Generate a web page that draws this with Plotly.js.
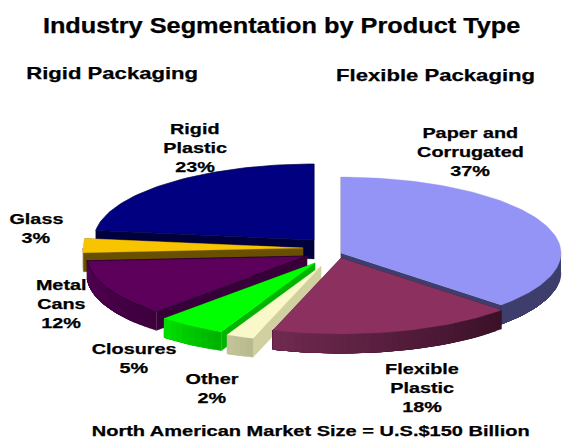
<!DOCTYPE html>
<html>
<head>
<meta charset="utf-8">
<script src="https://cdn.plot.ly/plotly-3.0.0.min.js"></script>
<style>
html,body{margin:0;padding:0;background:#fff}
#chart{width:562px;height:438px}
.annotation-text{stroke:#000;stroke-width:0.25px}
</style>
</head>
<body>
<div id="chart"></div>
<script>
// Market shares, clockwise from twelve o'clock
const segments = ["Paper and Corrugated","Flexible Plastic","Other","Closures","Metal Cans","Glass","Rigid Plastic"];
const shares = [37, 18, 2, 5, 12, 3, 23];

// Slice colours: top face, cut wall, rim at its left end, rim at its right end
const topColors = ["#9494f6","#8c305f","#f8f8c8","#00ff00","#5c005c","#f8c400","#000080"];
const wallColors = ["#3e3e6c","#3a1028","#d0d0a0","#00b400","#380038","#685000","#00003c"];
const rimLeft = ["#3e3e6c","#702a50","#c4c49a","#00e000","#520052","#806000","#00003c"];
const rimRight = ["#3e3e6c","#3a1028","#b8b890","#00b000","#3c003c","#806000","#00003c"];
const edgeColors = [null,null,null,null,"#20002a",null,"#000040"];

// Pie projection: each slice has its own pulled-out apex in plot units
const apexX = [341, 341, 321, 315, 307, 303, 314];
const apexY = [253, 258, 266, 263, 256, 248, 240];
const radiusX = 220, radiusY = 76, depth = 19;

// Back-to-front painting order
const paintOrder = [6, 0, 5, 4, 3, 2, 1];

const headings = [
  {text:"Industry Segmentation by Product Type", x:281, y:25, size:22, stretch:1.15},
  {text:"Rigid Packaging", x:112, y:73, size:17, stretch:1.3},
  {text:"Flexible Packaging", x:435, y:75, size:17, stretch:1.3},
  {text:"North American Market Size = U.S.$150 Billion", x:310, y:430.5, size:14.5, stretch:1.38}
];
const sliceLabels = [
  {lines:["Paper and","Corrugated","37%"], x:470, y:132},
  {lines:["Flexible","Plastic","18%"], x:422, y:368},
  {lines:["Other","2%"], x:212, y:378},
  {lines:["Closures","5%"], x:134, y:348},
  {lines:["Metal","Cans","12%"], x:61, y:284},
  {lines:["Glass","3%"], x:36, y:218},
  {lines:["Rigid","Plastic","23%"], x:195, y:128}
];
const labelStep = 19, labelSize = 15, labelStretch = 1.32;

const rad = d => d * Math.PI / 180;
const rimX = (i, a) => apexX[i] + radiusX * Math.sin(rad(a));
const rimY = (i, a) => apexY[i] - radiusY * Math.cos(rad(a));

function arcPoints(i, a0, a1, dy) {
  const xs = [], ys = [], n = Math.max(2, Math.ceil((a1 - a0) / 1.5));
  for (let k = 0; k <= n; k++) {
    const a = a0 + (a1 - a0) * k / n;
    xs.push(rimX(i, a)); ys.push(rimY(i, a) + dy);
  }
  return [xs, ys];
}
function poly(xs, ys, color, edge) {
  return {
    type:"scatter", mode:"lines", x:xs, y:ys, fill:"toself", fillcolor:color,
    line:{color:edge || color, width:edge ? 0.7 : 0.3},
    hoverinfo:"skip", showlegend:false
  };
}
function mix(c1, c2, t) {
  const p = c => [1,3,5].map(s => parseInt(c.substr(s,2),16));
  const a = p(c1), b = p(c2);
  return "rgb(" + a.map((v,j) => Math.round(v + (b[j]-v)*t)).join(",") + ")";
}

const total = shares.reduce((s,v) => s+v, 0);
const starts = [];
shares.reduce((acc,v,i) => { starts[i] = acc; return acc + v; }, 0);

const traces = [];
paintOrder.forEach(i => {
  const a0 = starts[i] / total * 360, a1 = (starts[i] + shares[i]) / total * 360;
  // cut walls
  [a0, a1].forEach(a => {
    const ex = rimX(i,a), ey = rimY(i,a);
    traces.push(poly([apexX[i],ex,ex,apexX[i],apexX[i]],
                     [apexY[i],ey,ey+depth,apexY[i]+depth,apexY[i]], wallColors[i]));
  });
  // rim, only where it faces the viewer; overlapping strips give a smooth left-right shade
  const r0 = Math.max(a0, 90), r1 = Math.min(a1, 270);
  if (r1 > r0) {
    const strips = Math.max(1, Math.ceil((r1 - r0) / 2));
    for (let s = 0; s < strips; s++) {
      const b0 = r0 + (r1 - r0) * s / strips;
      const [tx, ty] = arcPoints(i, b0, r1, 0);
      const [bx, by] = arcPoints(i, b0, r1, depth);
      traces.push(poly(tx.concat(bx.slice().reverse()), ty.concat(by.slice().reverse()),
                       mix(rimRight[i], rimLeft[i], (s + 0.5) / strips)));
    }
  }
  // top face
  const [fx, fy] = arcPoints(i, a0, a1, 0);
  traces.push(poly([apexX[i]].concat(fx, [apexX[i]]), [apexY[i]].concat(fy, [apexY[i]]), topColors[i], edgeColors[i]));
});

const font = size => ({family:"Liberation Sans, Arial, sans-serif", size:size, color:"#000", weight:"bold"});
const annotations = [], stretches = [];
headings.forEach(t => {
  annotations.push({x:t.x, y:t.y, xref:"x", yref:"y", text:t.text, showarrow:false, font:font(t.size)});
  stretches.push(t.stretch);
});
sliceLabels.forEach(l => l.lines.forEach((line, k) => {
  annotations.push({x:l.x, y:l.y + k * labelStep, xref:"x", yref:"y", text:line, showarrow:false, font:font(labelSize)});
  stretches.push(labelStretch);
}));

Plotly.newPlot("chart", traces, {
  width:562, height:438,
  margin:{l:0,r:0,t:0,b:0},
  paper_bgcolor:"#fff", plot_bgcolor:"#fff",
  xaxis:{range:[0,562], visible:false, fixedrange:true},
  yaxis:{range:[438,0], visible:false, fixedrange:true},
  annotations:annotations
}, {displayModeBar:false, staticPlot:true}).then(gd => {
  // The lettering is set wide: widen each label's glyphs about its centre
  gd.querySelectorAll(".annotation-text").forEach((el, n) => {
    el.setAttribute("lengthAdjust", "spacingAndGlyphs");
    el.setAttribute("textLength", el.getComputedTextLength() * stretches[n]);
  });
});
</script>
</body>
</html>
